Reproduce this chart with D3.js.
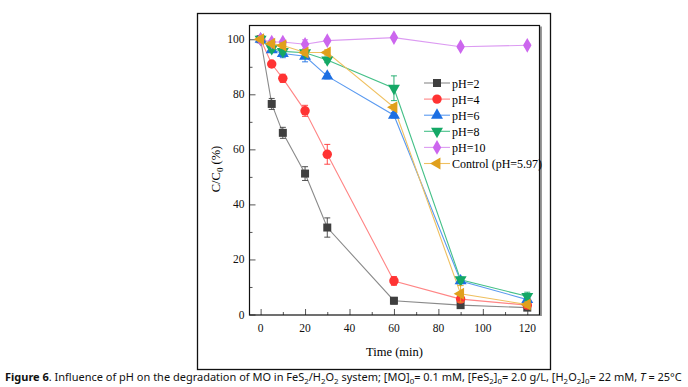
<!DOCTYPE html>
<html>
<head>
<meta charset="utf-8">
<script src="https://cdn.jsdelivr.net/npm/d3@7"></script>
<style>
  body { margin: 0; background: #fff; }
  svg { display: block; }
</style>
</head>
<body>
<div id="chart"></div>
<script>
// Sampling times (min)
const times = [0, 5, 10, 20, 30, 60, 90, 120];

// C/C0 (%) for each pH
const pH2Values  = [100, 76.5, 66, 51.2, 31.6, 5, 3.4, 2.5];
const pH4Values  = [100, 91, 85.8, 74, 58.2, 12.2, 5.6, 3.4];
const pH6Values  = [100, 96.2, 94.8, 93.8, 86.6, 72.4, 12.2, 5.4];
const pH8Values  = [100, 96.6, 95.6, 95.1, 92.5, 82.2, 12.6, 6.6];
const pH10Values = [100, 99, 99, 98.2, 99.5, 100.6, 97.3, 97.8];
const controlValues = [100, 98.4, 97.7, 95.2, 95.2, 75.3, 7.5, 3.6];

// error bars (+/-)
const pH2Errors  = [0.6, 2, 2, 2.5, 3.5, 1.2, 0.8, 0.8];
const pH4Errors  = [0.6, 0.6, 1.5, 2, 3.6, 1.6, 0.6, 0.6];
const pH6Errors  = [0.6, 1, 1.5, 2, 1, 1, 1, 1];
const pH8Errors  = [0.6, 1, 1, 1, 1, 4.5, 1, 1.5];
const pH10Errors = [0.6, 0.6, 0.6, 1.6, 0.6, 0.6, 0.6, 0.6];
const controlErrors = [0.6, 0.6, 1, 1, 1, 1, 3, 1];

const seriesNames = ['pH=2', 'pH=4', 'pH=6', 'pH=8', 'pH=10', 'Control (pH=5.97)'];

const xTicks = [0, 20, 40, 60, 80, 100, 120];
const yTicks = [0, 20, 40, 60, 80, 100];

const serif = 'Liberation Serif, Times New Roman, serif';

const series = [
    {name: seriesNames[0], values: pH2Values, errors: pH2Errors, marker: '#3f3f3f', line: '#8a8a8a', symbol: d3.symbolSquare, size: 64, rotate: 0},
    {name: seriesNames[1], values: pH4Values, errors: pH4Errors, marker: '#ff3333', line: '#ff8585', symbol: d3.symbolCircle, size: 70, rotate: 0},
    {name: seriesNames[2], values: pH6Values, errors: pH6Errors, marker: '#1c6fe3', line: '#5a9af0', symbol: d3.symbolTriangle, size: 62, rotate: 0},
    {name: seriesNames[3], values: pH8Values, errors: pH8Errors, marker: '#14a866', line: '#45c088', symbol: d3.symbolTriangle, size: 62, rotate: 180},
    {name: seriesNames[4], values: pH10Values, errors: pH10Errors, marker: '#cc66ee', line: '#dc9bf2', symbol: d3.symbolDiamond, size: 62, rotate: 0},
    {name: seriesNames[5], values: controlValues, errors: controlErrors, marker: '#e0a01c', line: '#efc060', symbol: d3.symbolTriangle, size: 62, rotate: -90}
];

const W = 688, H = 387;
const plot = {left: 249.5, right: 539.5, top: 25.5, bottom: 315};

const svg = d3.select('#chart')
    .append('svg')
    .attr('width', W)
    .attr('height', H);

// outer figure frame
svg.append('rect')
    .attr('x', 197.5)
    .attr('y', 13.5)
    .attr('width', 353)
    .attr('height', 356)
    .attr('fill', 'none')
    .attr('stroke', '#111')
    .attr('stroke-width', 1.3);

const x = d3.scaleLinear().domain([-5, 125.5]).range([plot.left, plot.right]);
const y = d3.scaleLinear().domain([0, 105]).range([plot.bottom - 0.5, plot.top]);

// ticks pointing inward
const xAxis = d3.axisTop(x).tickValues(xTicks).tickSize(6).tickFormat('');
const xMinor = d3.axisTop(x).tickValues(d3.range(10, 121, 20)).tickSize(3).tickFormat('');
const yAxis = d3.axisRight(y).tickValues(yTicks).tickSize(6).tickFormat('');
const yMinor = d3.axisRight(y).tickValues(d3.range(10, 101, 20)).tickSize(3).tickFormat('');

[xAxis, xMinor].forEach(a => {
    const g = svg.append('g')
        .attr('transform', `translate(0,${plot.bottom})`)
        .call(a);
    g.select('.domain').remove();
    g.selectAll('line').attr('stroke', '#555');
});
[yAxis, yMinor].forEach(a => {
    const g = svg.append('g')
        .attr('transform', `translate(${plot.left},0)`)
        .call(a);
    g.select('.domain').remove();
    g.selectAll('line').attr('stroke', '#555');
});

// tick labels
svg.append('g').selectAll('text')
    .data(xTicks)
    .enter()
    .append('text')
    .attr('font-family', serif)
    .attr('font-size', 11.5)
    .attr('fill', '#111')
    .attr('x', d => x(d))
    .attr('y', plot.bottom + 17)
    .attr('text-anchor', 'middle')
    .text(d => d);

svg.append('g').selectAll('text')
    .data(yTicks)
    .enter()
    .append('text')
    .attr('font-family', serif)
    .attr('font-size', 11.5)
    .attr('fill', '#111')
    .attr('x', plot.left - 5)
    .attr('y', d => y(d) + 4)
    .attr('text-anchor', 'end')
    .text(d => d);

// plot box + shadow on the right
svg.append('line')
    .attr('x1', plot.right + 1.5).attr('x2', plot.right + 1.5)
    .attr('y1', plot.top + 1).attr('y2', plot.bottom + 1)
    .attr('stroke', '#999').attr('stroke-width', 2);
svg.append('rect')
    .attr('x', plot.left)
    .attr('y', plot.top)
    .attr('width', plot.right - plot.left)
    .attr('height', plot.bottom - plot.top)
    .attr('fill', 'none')
    .attr('stroke', '#111')
    .attr('stroke-width', 1.2);

// axis titles
svg.append('text')
    .attr('x', (plot.left + plot.right) / 2)
    .attr('y', 356)
    .attr('text-anchor', 'middle')
    .attr('font-family', serif)
    .attr('font-size', 12.5)
    .text('Time (min)');

const yLabel = svg.append('text')
    .attr('transform', `translate(220,169) rotate(-90)`)
    .attr('text-anchor', 'middle')
    .attr('font-family', serif)
    .attr('font-size', 12.5);
yLabel.append('tspan').text('C/C');
yLabel.append('tspan').attr('dy', 3).attr('font-size', 9).text('0');
yLabel.append('tspan').attr('dy', -3).text(' (%)');

// lines, error bars, markers
const line = d3.line()
    .x((d, i) => x(times[i]))
    .y(d => y(d));

series.forEach(s => {
    svg.append('path')
        .datum(s.values)
        .attr('d', line)
        .attr('fill', 'none')
        .attr('stroke', s.line)
        .attr('stroke-width', 1.1);
});

series.forEach(s => {
    const g = svg.append('g');
    const pts = s.values.map((v, i) => ({t: times[i], v: v, e: s.errors[i]}));
    g.selectAll('.err')
        .data(pts)
        .enter()
        .append('path')
        .attr('d', d => {
            const cx = x(d.t), y1 = y(d.v + d.e), y2 = y(d.v - d.e);
            return `M${cx - 3},${y1}H${cx + 3}M${cx},${y1}V${y2}M${cx - 3},${y2}H${cx + 3}`;
        })
        .attr('fill', 'none')
        .attr('stroke', s.marker)
        .attr('stroke-width', 0.9);
    g.selectAll('.pt')
        .data(pts)
        .enter()
        .append('path')
        .attr('d', d3.symbol().type(s.symbol).size(s.size))
        .attr('transform', d => `translate(${x(d.t)},${y(d.v)}) rotate(${s.rotate})`)
        .attr('fill', s.marker);
});

// legend
const legend = svg.append('g')
    .attr('transform', 'translate(424,83)');

const legendItems = legend.selectAll('.legend-item')
    .data(series)
    .enter()
    .append('g')
    .attr('class', 'legend-item')
    .attr('transform', (d, i) => `translate(0, ${i * 16.1})`);

legendItems.append('line')
    .attr('x1', 0).attr('x2', 26)
    .attr('stroke', d => d.line)
    .attr('stroke-width', 1.1);

legendItems.append('path')
    .attr('d', d => d3.symbol().type(d.symbol).size(d.size)())
    .attr('transform', d => `translate(13,0) rotate(${d.rotate})`)
    .attr('fill', d => d.marker);

legendItems.append('text')
    .attr('x', 28)
    .attr('y', 4.5)
    .attr('font-family', serif)
    .attr('font-size', 12)
    .text(d => d.name);

// caption, font size scaled so that it spans the same width as the original
const cap = svg.append('text')
    .attr('x', 5)
    .attr('y', 381)
    .attr('font-family', 'Noto Sans, sans-serif')
    .attr('font-size', 11)
    .attr('fill', '#111');
const parts = [
    ['Figure 6', 'b'], ['. Influence of pH on the degradation of MO in FeS', ''], ['2', 's'], ['/H', ''], ['2', 's'], ['O', ''], ['2', 's'],
    [' system; [MO]', ''], ['0', 's'], ['= 0.1 mM, [FeS', ''], ['2', 's'], [']', ''], ['0', 's'], ['= 2.0 g/L, [H', ''], ['2', 's'], ['O', ''], ['2', 's'], [']', ''], ['0', 's'],
    ['= 22 mM, ', ''], ['T', 'i'], [' = 25°C', '']
];
let sub = false;
parts.forEach(([t, k]) => {
    const ts = cap.append('tspan').text(t);
    if (k === 'b') ts.attr('font-weight', 'bold');
    if (k === 'i') ts.attr('font-style', 'italic');
    if (k === 's') { ts.attr('font-size', '0.72em'); if (!sub) { ts.attr('dy', 2.5); sub = true; } }
    else if (sub) { ts.attr('dy', -2.5); sub = false; }
});
const capWidth = cap.node().getComputedTextLength();
cap.attr('font-size', 11 * 677 / capWidth);
</script>
</body>
</html>
